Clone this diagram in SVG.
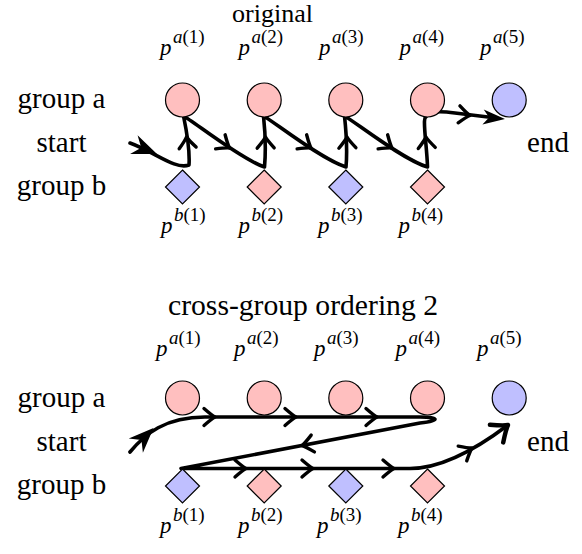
<svg xmlns="http://www.w3.org/2000/svg" width="582" height="554" viewBox="0 0 582 554">
<defs>
<path id="to" fill="none" stroke="#000" stroke-width="3.4" stroke-linecap="round" stroke-linejoin="round" d="M-11,-8.5 Q-3,-1.5 0,0 Q-3,1.5 -11,8.5"/>
<path id="st" d="M0,0 L-25,-10 L-17,0 L-25,10 Z" fill="#000"/>
<path id="st2" d="M0,0 L-22,-7.5 L-16,0 L-22,7.5 Z" fill="#000"/>
</defs>
<rect x="0" y="0" width="582" height="554" fill="#fff"/>

<g id="labels">
<text font-family="Liberation Serif" font-size="26" x="232" y="22" textLength="81" lengthAdjust="spacingAndGlyphs">original</text>
<text font-family="Liberation Serif" font-size="29" x="168" y="315" textLength="270" lengthAdjust="spacingAndGlyphs">cross-group ordering 2</text>
<text font-family="Liberation Serif" font-size="29" x="61.5" y="108" text-anchor="middle">group a</text>
<text font-family="Liberation Serif" font-size="29" x="61.5" y="152" text-anchor="middle">start</text>
<text font-family="Liberation Serif" font-size="29" x="61.5" y="195" text-anchor="middle">group b</text>
<text font-family="Liberation Serif" font-size="29" x="548" y="152" text-anchor="middle">end</text>
<text font-family="Liberation Serif" font-size="29" x="61.5" y="407" text-anchor="middle">group a</text>
<text font-family="Liberation Serif" font-size="29" x="61.5" y="451" text-anchor="middle">start</text>
<text font-family="Liberation Serif" font-size="29" x="61.5" y="494" text-anchor="middle">group b</text>
<text font-family="Liberation Serif" font-size="29" x="548" y="451" text-anchor="middle">end</text>
</g>

<g id="connectors">
<path fill="none" stroke="#000" stroke-width="3.6" stroke-linecap="round" stroke-linejoin="round" d="M130,143 C155,152 175,170 189,165 C190,150 186,128 183.5,116 C193,121 242,160 264.5,167 C266,150 265,130 263.5,116 C273,121 322,160 346,167 C347.5,150 346,130 344.5,116 C354,121 403,160 427.5,167 C427,150 424,130 424.5,121 C425,110 440,111 455,113 L488,117"/>
<use href="#st" transform="translate(157,154) rotate(22)"/>
<use href="#to" transform="translate(186.5,137) rotate(-96)"/>
<use href="#to" transform="translate(265.5,137) rotate(-91)"/>
<use href="#to" transform="translate(347,137) rotate(-92)"/>
<use href="#to" transform="translate(426,137) rotate(-94)"/>
<use href="#to" transform="translate(229.5,148) rotate(34)"/>
<use href="#to" transform="translate(311,148) rotate(34)"/>
<use href="#to" transform="translate(392,148) rotate(34)"/>
<use href="#to" transform="translate(470,115.5) rotate(6)"/>
<use href="#st2" transform="translate(505,119) rotate(5)"/>

<path fill="none" stroke="#000" stroke-width="3.6" stroke-linecap="round" stroke-linejoin="round" d="M130,452 C145,434 165,417 205,417 L420,417 C440,417 440,421 420,423 L181,468.5 L195,468.5 L410,468.5 C440,468.5 475,450 508,425"/>
<use href="#st" transform="translate(153.5,428) rotate(-45)"/>
<use href="#to" transform="translate(215,417)"/>
<use href="#to" transform="translate(296,417)"/>
<use href="#to" transform="translate(377,417)"/>
<use href="#to" transform="translate(302,445.6) rotate(169)"/>
<use href="#to" transform="translate(246,468.5)"/>
<use href="#to" transform="translate(313,468.5)"/>
<use href="#to" transform="translate(394,468.5)"/>
<use href="#to" transform="translate(472,448) rotate(-30)"/>
<use href="#to" transform="translate(508,425) rotate(-37) scale(1.3)"/>
</g>

<g stroke="#000" stroke-width="1.2">
<g id="ta1"><circle fill="#ffbfbf" cx="182.5" cy="100" r="17"/></g>
<g id="ta2"><circle fill="#ffbfbf" cx="264.2" cy="100" r="17"/></g>
<g id="ta3"><circle fill="#ffbfbf" cx="345.8" cy="100" r="17"/></g>
<g id="ta4"><circle fill="#ffbfbf" cx="427.5" cy="100" r="17"/></g>
<g id="ta5"><circle fill="#bfbfff" cx="509.2" cy="100" r="17"/></g>
<g id="tb1"><polygon fill="#bfbfff" points="182.5,170 199.5,187 182.5,204 165.5,187"/></g>
<g id="tb2"><polygon fill="#ffbfbf" points="264.2,170 281.2,187 264.2,204 247.2,187"/></g>
<g id="tb3"><polygon fill="#bfbfff" points="345.8,170 362.8,187 345.8,204 328.8,187"/></g>
<g id="tb4"><polygon fill="#ffbfbf" points="427.5,170 444.5,187 427.5,204 410.5,187"/></g>
<g id="ba1"><circle fill="#ffbfbf" cx="182.5" cy="398" r="17"/></g>
<g id="ba2"><circle fill="#ffbfbf" cx="264.2" cy="398" r="17"/></g>
<g id="ba3"><circle fill="#ffbfbf" cx="345.8" cy="398" r="17"/></g>
<g id="ba4"><circle fill="#ffbfbf" cx="427.5" cy="398" r="17"/></g>
<g id="ba5"><circle fill="#bfbfff" cx="509.2" cy="398" r="17"/></g>
<g id="bb1"><polygon fill="#bfbfff" points="182.5,469 199.5,486 182.5,503 165.5,486"/></g>
<g id="bb2"><polygon fill="#ffbfbf" points="264.2,469 281.2,486 264.2,503 247.2,486"/></g>
<g id="bb3"><polygon fill="#bfbfff" points="345.8,469 362.8,486 345.8,503 328.8,486"/></g>
<g id="bb4"><polygon fill="#ffbfbf" points="427.5,469 444.5,486 427.5,503 410.5,486"/></g>
</g>

<g id="node-labels">
<text font-family="Liberation Serif" font-style="italic" font-size="23" x="160" y="55">p</text><text font-family="Liberation Serif" font-style="italic" font-size="19" x="173" y="43">a<tspan font-style="normal">(1)</tspan></text>
<text font-family="Liberation Serif" font-style="italic" font-size="23" x="238.5" y="55">p</text><text font-family="Liberation Serif" font-style="italic" font-size="19" x="251.5" y="43">a<tspan font-style="normal">(2)</tspan></text>
<text font-family="Liberation Serif" font-style="italic" font-size="23" x="319" y="55">p</text><text font-family="Liberation Serif" font-style="italic" font-size="19" x="332" y="43">a<tspan font-style="normal">(3)</tspan></text>
<text font-family="Liberation Serif" font-style="italic" font-size="23" x="399.5" y="55">p</text><text font-family="Liberation Serif" font-style="italic" font-size="19" x="412.5" y="43">a<tspan font-style="normal">(4)</tspan></text>
<text font-family="Liberation Serif" font-style="italic" font-size="23" x="480" y="55">p</text><text font-family="Liberation Serif" font-style="italic" font-size="19" x="493" y="43">a<tspan font-style="normal">(5)</tspan></text>
<text font-family="Liberation Serif" font-style="italic" font-size="23" x="161" y="233">p</text><text font-family="Liberation Serif" font-style="italic" font-size="19" x="174" y="221">b<tspan font-style="normal">(1)</tspan></text>
<text font-family="Liberation Serif" font-style="italic" font-size="23" x="238.5" y="233">p</text><text font-family="Liberation Serif" font-style="italic" font-size="19" x="251.5" y="221">b<tspan font-style="normal">(2)</tspan></text>
<text font-family="Liberation Serif" font-style="italic" font-size="23" x="318" y="233">p</text><text font-family="Liberation Serif" font-style="italic" font-size="19" x="331" y="221">b<tspan font-style="normal">(3)</tspan></text>
<text font-family="Liberation Serif" font-style="italic" font-size="23" x="398.5" y="233">p</text><text font-family="Liberation Serif" font-style="italic" font-size="19" x="411.5" y="221">b<tspan font-style="normal">(4)</tspan></text>
<text font-family="Liberation Serif" font-style="italic" font-size="23" x="156" y="356">p</text><text font-family="Liberation Serif" font-style="italic" font-size="19" x="169" y="344">a<tspan font-style="normal">(1)</tspan></text>
<text font-family="Liberation Serif" font-style="italic" font-size="23" x="234" y="356">p</text><text font-family="Liberation Serif" font-style="italic" font-size="19" x="247" y="344">a<tspan font-style="normal">(2)</tspan></text>
<text font-family="Liberation Serif" font-style="italic" font-size="23" x="314" y="356">p</text><text font-family="Liberation Serif" font-style="italic" font-size="19" x="327" y="344">a<tspan font-style="normal">(3)</tspan></text>
<text font-family="Liberation Serif" font-style="italic" font-size="23" x="395.5" y="356">p</text><text font-family="Liberation Serif" font-style="italic" font-size="19" x="408.5" y="344">a<tspan font-style="normal">(4)</tspan></text>
<text font-family="Liberation Serif" font-style="italic" font-size="23" x="477" y="356">p</text><text font-family="Liberation Serif" font-style="italic" font-size="19" x="490" y="344">a<tspan font-style="normal">(5)</tspan></text>
<text font-family="Liberation Serif" font-style="italic" font-size="23" x="160" y="533">p</text><text font-family="Liberation Serif" font-style="italic" font-size="19" x="173" y="521">b<tspan font-style="normal">(1)</tspan></text>
<text font-family="Liberation Serif" font-style="italic" font-size="23" x="238" y="533">p</text><text font-family="Liberation Serif" font-style="italic" font-size="19" x="251" y="521">b<tspan font-style="normal">(2)</tspan></text>
<text font-family="Liberation Serif" font-style="italic" font-size="23" x="317" y="533">p</text><text font-family="Liberation Serif" font-style="italic" font-size="19" x="330" y="521">b<tspan font-style="normal">(3)</tspan></text>
<text font-family="Liberation Serif" font-style="italic" font-size="23" x="398" y="533">p</text><text font-family="Liberation Serif" font-style="italic" font-size="19" x="411" y="521">b<tspan font-style="normal">(4)</tspan></text>
</g>
</svg>
